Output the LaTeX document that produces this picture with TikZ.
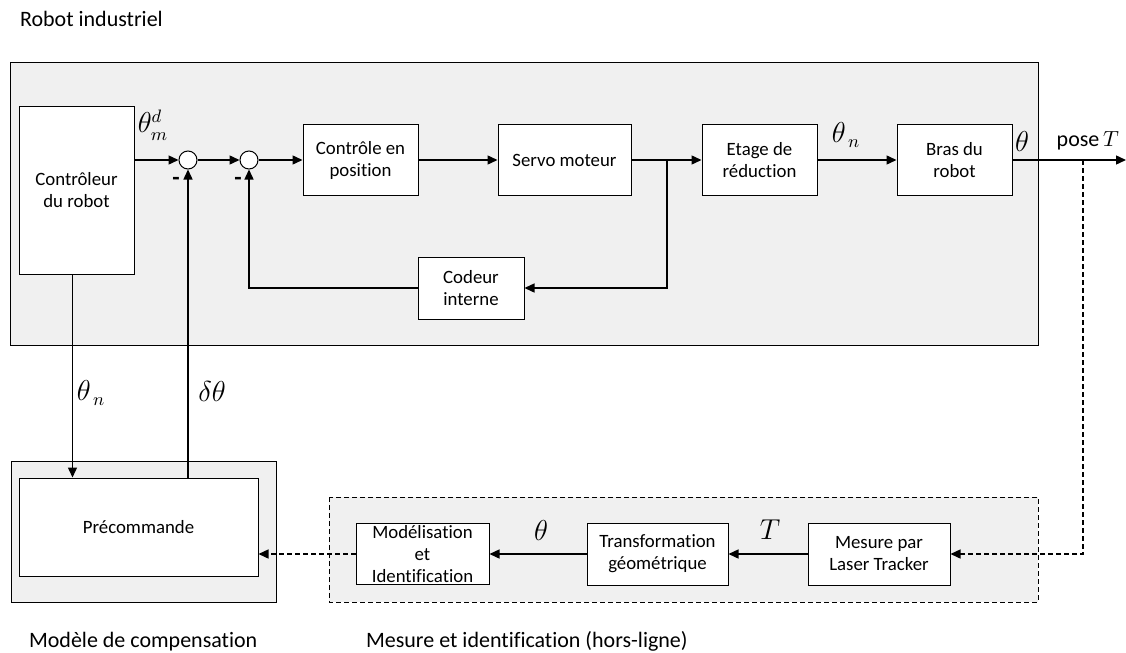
\documentclass[tikz,border=0pt]{standalone}
\usepackage{fontspec}
\setmainfont[Ligatures=NoCommon]{Carlito}
\usetikzlibrary{arrows.meta,calc}

\definecolor{zonegray}{RGB}{240,240,240}

\begin{document}
\begin{tikzpicture}[x=0.5pt,y=-0.5pt,>={Triangle[length=5pt,width=4.5pt]},
  block/.style={draw,line width=0.5pt,fill=white,align=center,inner sep=0pt,
    font=\fontsize{9.4}{11}\selectfont},
  sumnode/.style={draw,circle,line width=0.5pt,fill=white,minimum size=9pt,inner sep=0pt},
  sig/.style={font=\fontsize{13.5}{15}\selectfont},
  zone/.style={fill=zonegray,draw=black,line width=0.5pt},
  title/.style={anchor=base west,font=\fontsize{11}{13}\selectfont},
  minus/.style={font=\fontsize{12}{14}\selectfont\bfseries},
  wire/.style={line width=0.7pt},
  link/.style={line width=0.7pt,dash pattern=on 2.5pt off 1.5pt}]

  \useasboundingbox (0,0) rectangle (1126,653);

  % --- Zones (robot, compensation, off-line measurement) ---
  \draw[zone] (10,62) rectangle (1038,345);
  \draw[zone] (11,461) rectangle (276,602);
  \draw[zone,dash pattern=on 2.5pt off 1.5pt] (329,497) rectangle (1038,602);

  \node[title] (tRobot) at (13,26) {Robot industriel};
  \node[title] (tComp)  at (22,647) {Modèle de compensation};
  \node[title] (tMes)   at (359,647) {Mesure et identification (hors-ligne)};

  % --- Blocks ---
  \node[block,minimum width=57.5pt,minimum height=84pt]   (ctrl)   at (76.5,190) {Contrôleur\\du robot};
  \node[sumnode] (sum1) at (188,160) {};
  \node[sumnode] (sum2) at (249,160) {};
  \node[block,minimum width=57.5pt,minimum height=35.5pt] (cpos)   at (360.5,160) {Contrôle en\\position};
  \node[block,minimum width=66.5pt,minimum height=35.5pt] (servo)  at (564.5,160) {Servo moteur};
  \node[block,minimum width=57.5pt,minimum height=35.5pt] (etage)  at (759.5,160) {Etage de\\réduction};
  \node[block,minimum width=57.5pt,minimum height=35.5pt] (bras)   at (954.5,160) {Bras du\\robot};
  \node[block,minimum width=53pt,minimum height=31pt]     (codeur) at (471,288) {Codeur\\interne};

  \node[block,minimum width=119.5pt,minimum height=49pt]  (precom) at (138.5,527) {Précommande};
  \node[block,minimum width=66.5pt,minimum height=30.5pt] (model)  at (422.5,554) {Modélisation\\et\\Identification};
  \node[block,minimum width=70.5pt,minimum height=31pt]   (transfo) at (657.5,554) {Transformation\\géométrique};
  \node[block,minimum width=71pt,minimum height=31pt]     (mesure) at (879,554) {Mesure par\\Laser Tracker};

  \coordinate (branch) at (667,160);
  \coordinate (tap)    at (1083,160);
  \coordinate (out)    at (1126,160);

  % --- Forward path ---
  \draw[wire,->] (ctrl.east |- sum1) -- (sum1);
  \draw[wire,->] (sum1) -- (sum2);
  \draw[wire,->] (sum2) -- (cpos);
  \draw[wire,->] (cpos) -- (servo);
  \draw[wire,->] (servo) -- (etage);
  \draw[wire,->] (etage) -- (bras);
  \draw[wire,->] (bras) -- (out);

  % --- Internal encoder loop ---
  \draw[wire,->] (branch) |- (codeur.east);
  \draw[wire,->] (codeur.west) -| (sum2.south);

  % --- Compensation links ---
  \draw[wire,->] ([xshift=-2pt]ctrl.south) -- ([xshift=-2pt]ctrl.south |- precom.north);
  \draw[wire,->] (sum1 |- precom.north) -- (sum1.south);

  % --- Measurement chain ---
  \draw[link,->] (tap) |- (mesure.east);
  \draw[wire,->] (mesure) -- (transfo);
  \draw[wire,->] (transfo) -- (model);
  \draw[link,->] (model.west) -- (model.west -| precom.east);

  % --- Signal labels ---
  \node[sig] (lThd)  at (153,125) {$\theta_m^d$};
  \node[sig] (lThn)  at (846,135) {$\theta_{\,n}$};
  \node[sig] (lTh)   at (1022,141) {$\theta$};
  \node[sig,anchor=east] (lPose) at (1126,141) {\fontsize{11}{13}\selectfont pose\,$T$};
  \node[sig] (lThn2) at (91,393) {$\theta_{\,n}$};
  \node[sig] (lDth)  at (212,391) {$\delta\theta$};
  \node[sig] (lThm)  at (541,530) {$\theta$};
  \node[sig] (lT)    at (770,530) {$T$};

  \node[minus] (m1) at (176,181) {-};
  \node[minus] (m2) at (238,181) {-};

\end{tikzpicture}
\end{document}
